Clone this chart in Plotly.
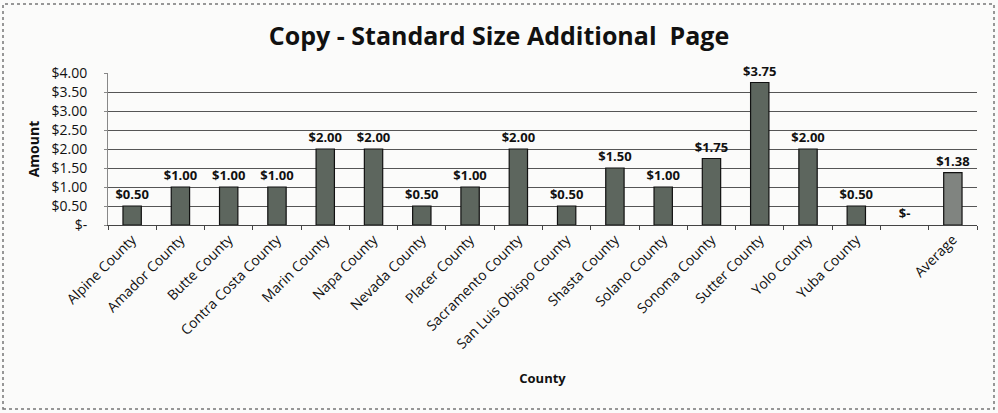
import plotly.graph_objects as go

categories = ["Alpine County", "Amador County", "Butte County", "Contra Costa County",
              "Marin County", "Napa County", "Nevada County", "Placer County",
              "Sacramento County", "San Luis Obispo County", "Shasta County",
              "Solano County", "Sonoma County", "Sutter County", "Yolo County",
              "Yuba County", " ", "Average"]
amounts = [0.50, 1.00, 1.00, 1.00, 2.00, 2.00, 0.50, 1.00, 2.00, 0.50, 1.50,
           1.00, 1.75, 3.75, 2.00, 0.50, 0.0, 1.38]
y_tick_vals = [0, 0.5, 1.0, 1.5, 2.0, 2.5, 3.0, 3.5, 4.0]
y_tick_text = ["$-", "$0.50", "$1.00", "$1.50", "$2.00", "$2.50", "$3.00", "$3.50", "$4.00"]

labels = [("<b>$%.2f</b>" % v) if v else "<b>$-</b>" for v in amounts]
colors = ["#808480" if c == "Average" else "#5d665e" for c in categories]
line_widths = [1.2 if v else 0 for v in amounts]

W, H = 998, 413
L, R, T, B = 108, 21, 73, 188
pw, ph = W - L - R, H - T - B

fig = go.Figure()
fig.add_trace(go.Bar(
    x=categories, y=amounts, text=labels, textposition="outside",
    constraintext="none",
    textfont=dict(family="Open Sans", size=13, color="#111111"),
    marker=dict(color=colors, line=dict(color="#111111", width=line_widths)),
    width=0.38, cliponaxis=False, showlegend=False,
))

fig.update_layout(
    width=W, height=H,
    margin=dict(l=L, r=R, t=T, b=B),
    paper_bgcolor="#fbfbfa", plot_bgcolor="#fbfbfa",
    font=dict(family="Open Sans", color="#111111"),
    title=dict(text="<b>Copy - Standard Size Additional  Page</b>",
               x=0.5, xanchor="center", y=1 - 36 / H, yanchor="middle",
               font=dict(family="Open Sans", size=25, color="#111111")),
    xaxis=dict(
        type="category", tickangle=-45, tickfont=dict(size=14, color="#111111"),
        ticks="outside", tickson="boundaries", ticklen=4, tickcolor="#444444",
        showline=True, linecolor="#444444", linewidth=1, showgrid=False,
        title=dict(text="<b>County</b>", font=dict(size=13), standoff=22),
    ),
    yaxis=dict(
        range=[0, 4.0], tickvals=y_tick_vals, ticktext=y_tick_text,
        tickfont=dict(size=14, color="#111111"), ticklabelstandoff=14,
        showgrid=True, gridcolor="#555555", gridwidth=1,
        showline=True, linecolor="#888888", ticks="outside", ticklen=3,
        tickcolor="#888888", zeroline=False,
        title=dict(text="<b>Amount</b>", font=dict(size=14), standoff=8),
    ),
    shapes=[dict(type="rect", xref="paper", yref="paper",
                 x0=(3 - L) / pw, x1=(994 - L) / pw,
                 y0=(T + ph - 409) / ph, y1=(T + ph - 4) / ph,
                 line=dict(color="#777777", width=1.5, dash="dot"))],
)

fig.write_html("out.html", config={"displayModeBar": False},
               post_script="document.body.style.margin='0';document.body.style.overflow='hidden';")
